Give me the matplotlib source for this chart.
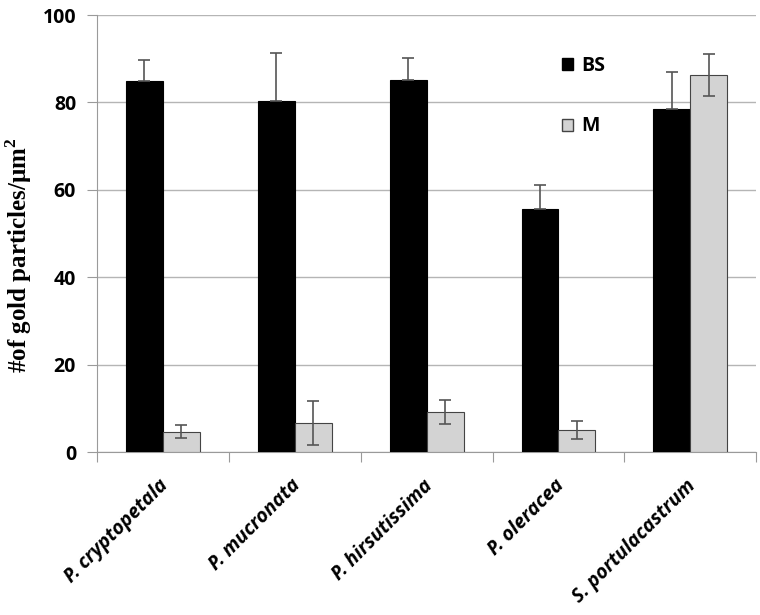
import numpy as np
import matplotlib
matplotlib.use("Agg")
import matplotlib.pyplot as plt
from matplotlib.patches import Patch

# values
species = ["P. cryptopetala", "P. mucronata", "P. hirsutissima", "P. oleracea", "S. portulacastrum"]
bs_vals = [85.0, 80.3, 85.2, 55.7, 78.5]
bs_err = [4.6, 11.0, 4.9, 5.4, 8.4]
m_vals = [4.6, 6.7, 9.2, 5.0, 86.2]
m_err = [1.5, 5.0, 2.8, 2.0, 4.8]

fig = plt.figure(figsize=(7.6, 6.15), dpi=100)
ax = fig.add_axes([0.1276, 0.265, 0.8674, 0.7106])

x = np.arange(len(species))
w = 0.28
ekw = dict(ecolor="#555555", elinewidth=1.2, capsize=4, capthick=1.2)
ax.bar(x - w / 2, bs_vals, w, color="black", edgecolor="black", linewidth=0.8,
       yerr=[[0] * 5, bs_err], error_kw=ekw, zorder=3)
ax.bar(x + w / 2, m_vals, w, color="#d3d3d3", edgecolor="#444444", linewidth=0.8,
       yerr=m_err, error_kw=ekw, zorder=3)

ax.set_xlim(-0.5, 4.5)
ax.set_ylim(0, 100)
ax.set_yticks([0, 20, 40, 60, 80, 100])
ax.yaxis.grid(True, color="#b5b5b5", linewidth=1.0, zorder=0)
ax.set_axisbelow(True)
for s in ["top", "right"]:
    ax.spines[s].set_visible(False)
ax.spines["left"].set_color("#9a9a9a")
ax.spines["bottom"].set_color("#9a9a9a")

ax.set_xticks(np.arange(-0.5, 5, 1.0))
ax.set_xticklabels([])
ax.tick_params(axis="x", length=7, color="#9a9a9a", direction="out")
ax.tick_params(axis="y", length=7, color="#9a9a9a", direction="out", pad=8)
for lab in ax.get_yticklabels():
    lab.set_fontfamily("Open Sans")
    lab.set_fontweight("bold")
    lab.set_fontsize(14)

for i, name in enumerate(species):
    ax.annotate(name, xy=(i, 0), xycoords=("data", "axes fraction"),
                xytext=(2, -22), textcoords="offset points",
                ha="right", va="center", rotation=45, rotation_mode="anchor",
                fontfamily="Open Sans", fontweight="bold", fontstyle="italic", fontsize=14)

ax.set_ylabel("#of gold particles/μm$^\\mathregular{2}$", fontfamily="Liberation Serif",
              fontweight="bold", fontsize=18)
ax.yaxis.set_label_coords(-0.096, 0.45)

handles = [Patch(facecolor="black", edgecolor="black"),
           Patch(facecolor="#d3d3d3", edgecolor="#444444")]
leg = ax.legend(handles, ["BS", "M"], loc="upper left", bbox_to_anchor=(0.693, 0.925),
                frameon=False, labelspacing=2.1, handlelength=0.57, handleheight=0.57,
                handletextpad=0.45, borderaxespad=0,
                prop={"family": "Open Sans", "weight": "bold", "size": 14})

fig.savefig("out.png", dpi=100)
